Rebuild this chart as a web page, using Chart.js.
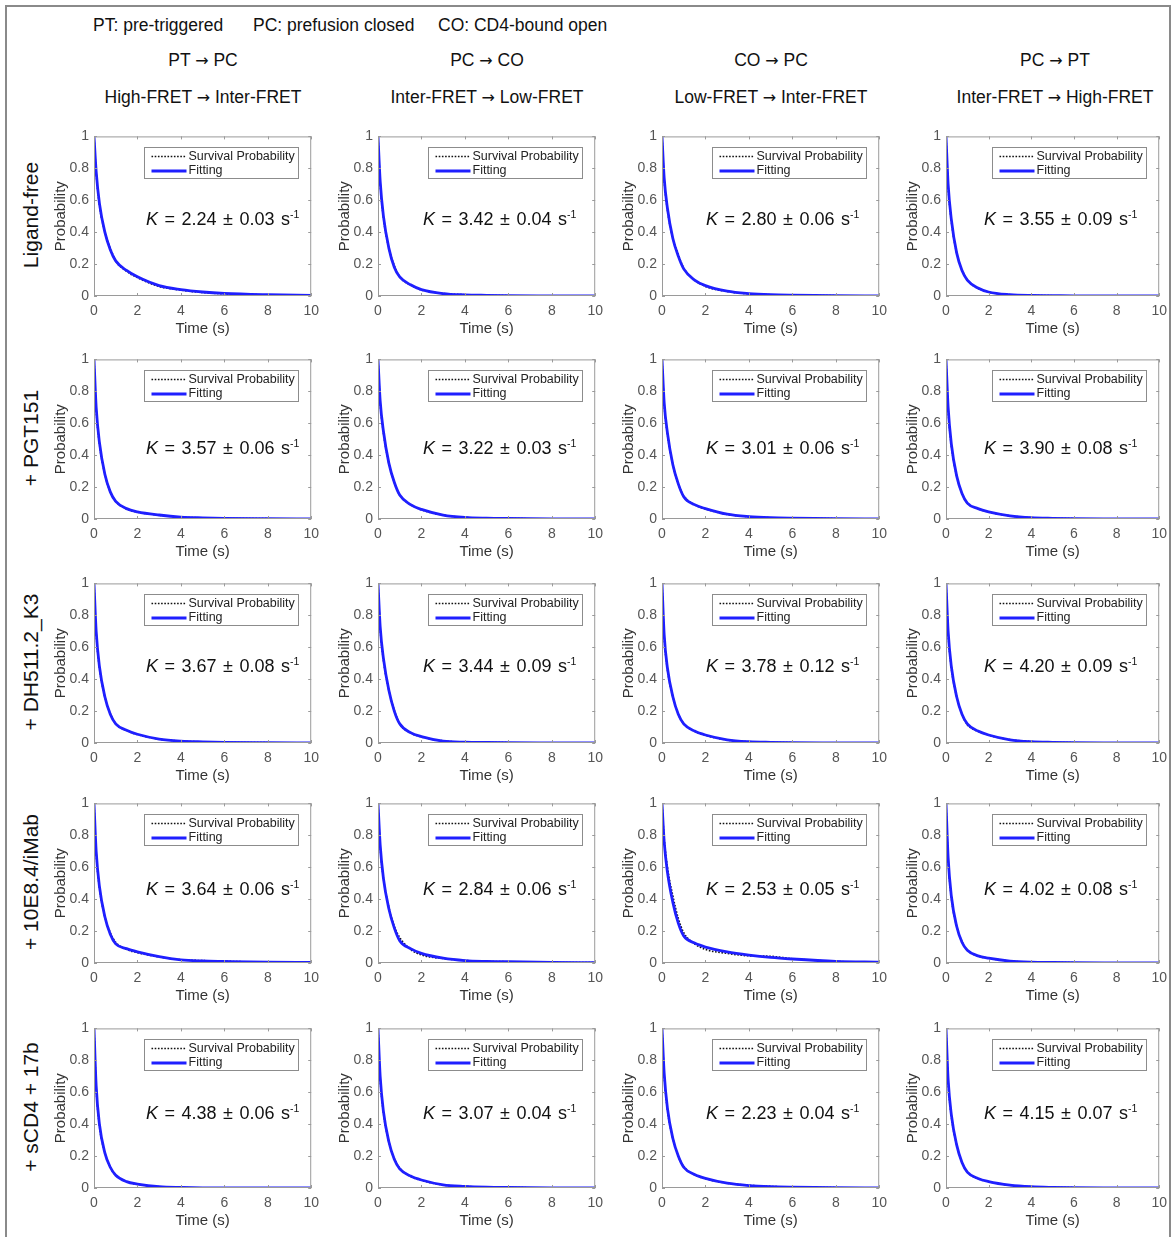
<!DOCTYPE html>
<html>
<head>
<meta charset="utf-8">
<script src="https://cdn.jsdelivr.net/npm/chart.js@4.4.1/dist/chart.umd.min.js"></script>
<style>
  body { margin: 0; background: #fff; font-family: "Liberation Sans", Arial, sans-serif; }
  #fig { position: relative; width: 1175px; height: 1237px; overflow: hidden; }
  #frame { position: absolute; left: 5px; top: 5px; width: 1166px; height: 1240px; border: 2px solid #8a8a8a; box-sizing: border-box; }
  .txt { position: absolute; white-space: nowrap; color: #111; font-size: 17.5px; }
  .ctr { transform: translateX(-50%); }
  .arr { font-family: "DejaVu Sans", sans-serif; font-size: 16px; }
  .rowlab { position: absolute; white-space: nowrap; font-size: 21px; color: #111; transform: translate(-50%, -50%) rotate(-90deg); }
  .klab { position: absolute; white-space: nowrap; font-size: 18px; word-spacing: 1.5px; color: #111; transform: translateY(-50%); }
  .klab sup { font-size: 10.5px; vertical-align: 7px; }
  canvas { position: absolute; }
</style>
</head>
<body>
<div id="fig">
  <div id="frame"></div>
</div>
<script>
// ---- data ----
const legendNote = ["PT: pre-triggered", "PC: prefusion closed", "CO: CD4-bound open"];
const transitions = ["PT → PC", "PC → CO", "CO → PC", "PC → PT"];
const fretChanges = ["High-FRET → Inter-FRET", "Inter-FRET → Low-FRET", "Low-FRET → Inter-FRET", "Inter-FRET → High-FRET"];
const conditions = ["Ligand-free", "+ PGT151", "+ DH511.2_K3", "+ 10E8.4/iMab", "+ sCD4 + 17b"];

// rate constants, K ± error (s-1), four panels per condition
const rateK = [
  ["2.24", "0.03"], ["3.42", "0.04"], ["2.80", "0.06"], ["3.55", "0.09"],
  ["3.57", "0.06"], ["3.22", "0.03"], ["3.01", "0.06"], ["3.90", "0.08"],
  ["3.67", "0.08"], ["3.44", "0.09"], ["3.78", "0.12"], ["4.20", "0.09"],
  ["3.64", "0.06"], ["2.84", "0.06"], ["2.53", "0.05"], ["4.02", "0.08"],
  ["4.38", "0.06"], ["3.07", "0.04"], ["2.23", "0.04"], ["4.15", "0.07"]
];

// time (s) where the curves were read
const timePoints = [0, 0.1, 0.25, 0.5, 0.75, 1, 1.5, 2, 3, 4, 5, 6, 8, 10];

// fitted curves, 4 panels per row
const fitLigandFree = [
  [1, 0.78, 0.58, 0.40, 0.29, 0.22, 0.16, 0.12, 0.065, 0.04, 0.025, 0.016, 0.008, 0.004],
  [1, 0.72, 0.50, 0.30, 0.18, 0.12, 0.07, 0.04, 0.015, 0.007, 0.004, 0.002, 0.001, 0],
  [1, 0.74, 0.55, 0.36, 0.25, 0.17, 0.10, 0.065, 0.03, 0.015, 0.008, 0.005, 0.002, 0.001],
  [1, 0.70, 0.48, 0.27, 0.16, 0.10, 0.05, 0.025, 0.008, 0.003, 0.002, 0.001, 0, 0]
];
const fitPGT151 = [
  [1, 0.70, 0.48, 0.28, 0.17, 0.11, 0.065, 0.045, 0.025, 0.012, 0.007, 0.004, 0.002, 0.001],
  [1, 0.74, 0.55, 0.35, 0.23, 0.15, 0.09, 0.06, 0.025, 0.01, 0.005, 0.003, 0.001, 0],
  [1, 0.73, 0.54, 0.34, 0.22, 0.14, 0.09, 0.065, 0.03, 0.015, 0.008, 0.005, 0.002, 0.001],
  [1, 0.70, 0.47, 0.27, 0.16, 0.10, 0.065, 0.045, 0.02, 0.008, 0.004, 0.002, 0.001, 0]
];
const fitDH511 = [
  [1, 0.70, 0.48, 0.29, 0.18, 0.12, 0.08, 0.055, 0.025, 0.012, 0.007, 0.004, 0.002, 0.001],
  [1, 0.73, 0.53, 0.33, 0.20, 0.12, 0.065, 0.04, 0.012, 0.005, 0.003, 0.002, 0.001, 0],
  [1, 0.68, 0.47, 0.29, 0.18, 0.12, 0.075, 0.05, 0.02, 0.008, 0.004, 0.002, 0.001, 0],
  [1, 0.70, 0.48, 0.29, 0.18, 0.12, 0.075, 0.05, 0.02, 0.008, 0.004, 0.002, 0.001, 0]
];
const fit10E8 = [
  [1, 0.70, 0.48, 0.29, 0.18, 0.12, 0.09, 0.07, 0.04, 0.02, 0.013, 0.01, 0.005, 0.003],
  [1, 0.74, 0.53, 0.34, 0.22, 0.14, 0.09, 0.06, 0.03, 0.015, 0.01, 0.008, 0.004, 0.002],
  [1, 0.76, 0.57, 0.38, 0.25, 0.17, 0.125, 0.10, 0.07, 0.05, 0.035, 0.025, 0.01, 0.005],
  [1, 0.66, 0.42, 0.23, 0.13, 0.08, 0.045, 0.03, 0.012, 0.005, 0.003, 0.002, 0.001, 0]
];
const fitSCD4 = [
  [1, 0.64, 0.40, 0.22, 0.13, 0.08, 0.04, 0.025, 0.008, 0.003, 0.001, 0.001, 0, 0],
  [1, 0.70, 0.48, 0.29, 0.18, 0.12, 0.075, 0.05, 0.02, 0.01, 0.005, 0.003, 0.001, 0],
  [1, 0.72, 0.50, 0.31, 0.20, 0.13, 0.085, 0.06, 0.03, 0.015, 0.008, 0.005, 0.002, 0.001],
  [1, 0.68, 0.46, 0.27, 0.16, 0.10, 0.06, 0.04, 0.018, 0.008, 0.004, 0.002, 0.001, 0]
];

// measured survival probability
const survLigandFree = [
  [1, 0.77, 0.57, 0.40, 0.30, 0.22, 0.155, 0.115, 0.06, 0.037, 0.022, 0.014, 0.007, 0.003],
  [1, 0.71, 0.49, 0.30, 0.19, 0.12, 0.068, 0.038, 0.016, 0.008, 0.004, 0.002, 0.001, 0],
  [1, 0.73, 0.54, 0.36, 0.26, 0.175, 0.10, 0.06, 0.028, 0.014, 0.008, 0.005, 0.002, 0.001],
  [1, 0.69, 0.47, 0.27, 0.165, 0.10, 0.048, 0.024, 0.008, 0.003, 0.002, 0.001, 0, 0]
];
const survPGT151 = [
  [1, 0.69, 0.47, 0.28, 0.17, 0.11, 0.063, 0.043, 0.024, 0.012, 0.007, 0.004, 0.002, 0.001],
  [1, 0.73, 0.54, 0.35, 0.23, 0.15, 0.09, 0.058, 0.024, 0.01, 0.005, 0.003, 0.001, 0],
  [1, 0.72, 0.53, 0.34, 0.22, 0.145, 0.09, 0.063, 0.029, 0.015, 0.008, 0.005, 0.002, 0.001],
  [1, 0.69, 0.46, 0.27, 0.16, 0.10, 0.064, 0.044, 0.02, 0.008, 0.004, 0.002, 0.001, 0]
];
const survDH511 = [
  [1, 0.69, 0.47, 0.29, 0.185, 0.12, 0.078, 0.053, 0.024, 0.012, 0.007, 0.004, 0.002, 0.001],
  [1, 0.72, 0.52, 0.33, 0.205, 0.12, 0.063, 0.038, 0.013, 0.006, 0.003, 0.002, 0.001, 0],
  [1, 0.67, 0.46, 0.29, 0.18, 0.12, 0.073, 0.048, 0.019, 0.008, 0.004, 0.002, 0.001, 0],
  [1, 0.69, 0.47, 0.29, 0.18, 0.115, 0.073, 0.049, 0.021, 0.009, 0.004, 0.002, 0.001, 0]
];
const surv10E8 = [
  [1, 0.69, 0.47, 0.29, 0.19, 0.13, 0.085, 0.065, 0.038, 0.021, 0.015, 0.011, 0.005, 0.003],
  [1, 0.73, 0.53, 0.35, 0.23, 0.16, 0.085, 0.05, 0.028, 0.016, 0.01, 0.008, 0.004, 0.002],
  [1, 0.78, 0.60, 0.42, 0.28, 0.19, 0.12, 0.085, 0.06, 0.045, 0.042, 0.027, 0.01, 0.004],
  [1, 0.65, 0.41, 0.23, 0.135, 0.08, 0.044, 0.03, 0.012, 0.005, 0.003, 0.002, 0.001, 0]
];
const survSCD4 = [
  [1, 0.63, 0.39, 0.22, 0.13, 0.08, 0.04, 0.024, 0.008, 0.003, 0.001, 0.001, 0, 0],
  [1, 0.69, 0.47, 0.29, 0.185, 0.125, 0.073, 0.048, 0.019, 0.01, 0.005, 0.003, 0.001, 0],
  [1, 0.71, 0.49, 0.31, 0.20, 0.135, 0.083, 0.058, 0.03, 0.017, 0.01, 0.006, 0.002, 0.001],
  [1, 0.67, 0.45, 0.27, 0.16, 0.10, 0.058, 0.04, 0.017, 0.008, 0.004, 0.002, 0.001, 0]
];

const fitRows = [fitLigandFree, fitPGT151, fitDH511, fit10E8, fitSCD4];
const survRows = [survLigandFree, survPGT151, survDH511, surv10E8, survSCD4];

// ---- layout ----
const plotLeft = [94, 378, 662, 946];
const plotTop = [133, 356, 580, 800, 1025];
const plotW = 218, plotH = 163;
const yAxisW = 50, xAxisH = 50, padTop = 10;
const kLeft = [52, 45, 44, 38];
const kTop = [86, 92, 86, 89, 88];
const FONT = '"Liberation Sans", Arial, sans-serif';

const fig = document.getElementById('fig');

function addText(cls, text, x, y) {
  const d = document.createElement('div');
  d.className = cls;
  d.innerHTML = text.replace('→', '<span class="arr">→</span>');
  d.style.left = x + 'px';
  d.style.top = y + 'px';
  fig.appendChild(d);
  return d;
}

// header
addText('txt', legendNote[0], 93, 15);
addText('txt', legendNote[1], 253, 15);
addText('txt', legendNote[2], 438, 15);
transitions.forEach((t, c) => addText('txt ctr', t, plotLeft[c] + plotW / 2, 50));
fretChanges.forEach((t, c) => addText('txt ctr', t, plotLeft[c] + plotW / 2, 87));
conditions.forEach((t, r) => addText('rowlab', t, 31, plotTop[r] + plotH / 2));

// box, inner ticks and legend drawn on each panel
const panelDecor = {
  id: 'panelDecor',
  afterDatasetsDraw(chart) {
    const { ctx, chartArea: a, scales: { x, y } } = chart;
    ctx.save();
    ctx.strokeStyle = '#9a9a9a';
    ctx.lineWidth = 1;
    ctx.strokeRect(a.left + 0.5, a.top + 0.5, a.width - 1, a.height - 1);
    ctx.beginPath();
    x.ticks.forEach(t => {
      const px = Math.round(x.getPixelForValue(t.value)) + 0.5;
      ctx.moveTo(px, a.bottom); ctx.lineTo(px, a.bottom - 3);
      ctx.moveTo(px, a.top); ctx.lineTo(px, a.top + 3);
    });
    y.ticks.forEach(t => {
      const py = Math.round(y.getPixelForValue(t.value)) + 0.5;
      ctx.moveTo(a.left, py); ctx.lineTo(a.left + 3, py);
      ctx.moveTo(a.right, py); ctx.lineTo(a.right - 3, py);
    });
    ctx.stroke();

    // legend box
    const bw = 154, bh = 31;
    const bx = Math.round(a.right - 13 - bw) + 0.5, by = Math.round(a.top + 11) + 0.5;
    ctx.fillStyle = '#fff';
    ctx.fillRect(bx, by, bw, bh);
    ctx.strokeStyle = '#8c8c8c';
    ctx.strokeRect(bx, by, bw, bh);
    const ds = chart.data.datasets;
    const entries = [ds[1], ds[0]];
    ctx.font = '12.5px ' + FONT;
    ctx.textBaseline = 'middle';
    entries.forEach((d, i) => {
      const ly = by + 9 + i * 14.5;
      ctx.beginPath();
      ctx.strokeStyle = d.borderColor;
      ctx.lineWidth = d.borderWidth;
      ctx.setLineDash(d.borderDash || []);
      ctx.moveTo(bx + 7, ly); ctx.lineTo(bx + 42, ly);
      ctx.stroke();
      ctx.setLineDash([]);
      ctx.fillStyle = '#222';
      ctx.fillText(d.label, bx + 44, ly);
    });
    ctx.restore();
  }
};

for (let r = 0; r < 5; r++) {
  for (let c = 0; c < 4; c++) {
    const padRight = c === 3 ? 10 : 14;
    const cv = document.createElement('canvas');
    const w = yAxisW + plotW + padRight, h = padTop + plotH + xAxisH;
    cv.width = w; cv.height = h;
    cv.style.left = (plotLeft[c] - yAxisW) + 'px';
    cv.style.top = (plotTop[r] - padTop) + 'px';
    fig.appendChild(cv);

    const fit = fitRows[r][c], surv = survRows[r][c];
    new Chart(cv, {
      type: 'line',
      data: {
        datasets: [
          {
            label: 'Fitting',
            data: timePoints.map((t, i) => ({ x: t, y: fit[i] })),
            borderColor: '#1f1fff',
            borderWidth: 2.8,
            pointRadius: 0,
            cubicInterpolationMode: 'monotone',
            order: 0
          },
          {
            label: 'Survival Probability',
            data: timePoints.map((t, i) => ({ x: t, y: surv[i] })),
            borderColor: '#111',
            borderWidth: 1.6,
            borderDash: [1.6, 1.6],
            pointRadius: 0,
            cubicInterpolationMode: 'monotone',
            order: 1
          }
        ]
      },
      options: {
        responsive: false,
        animation: false,
        events: [],
        layout: { padding: { top: padTop, right: padRight, left: 0, bottom: 0 } },
        plugins: { legend: { display: false }, tooltip: { enabled: false } },
        scales: {
          x: {
            type: 'linear', min: 0, max: 10,
            grid: { display: false, drawTicks: false },
            border: { display: false },
            ticks: { stepSize: 2, padding: 7, color: '#555', font: { size: 14, family: FONT } },
            title: { display: true, text: 'Time (s)', color: '#333', font: { size: 15, family: FONT }, padding: { top: 0, bottom: 8 } },
            afterFit(s) { s.height = xAxisH; }
          },
          y: {
            min: 0, max: 1,
            grid: { display: false, drawTicks: false },
            border: { display: false },
            ticks: {
              stepSize: 0.2, padding: 5, color: '#555', font: { size: 14, family: FONT },
              callback: v => String(Math.round(v * 10) / 10)
            },
            title: { display: true, text: 'Probability', color: '#333', font: { size: 15, family: FONT }, padding: { top: 8, bottom: 0 } },
            afterFit(s) { s.width = yAxisW; }
          }
        }
      },
      plugins: [panelDecor]
    });

    const k = rateK[r * 4 + c];
    const kl = document.createElement('div');
    kl.className = 'klab';
    kl.innerHTML = '<i>K</i> = ' + k[0] + ' ± ' + k[1] + ' s<sup>-1</sup>';
    kl.style.left = (plotLeft[c] + kLeft[c]) + 'px';
    kl.style.top = (plotTop[r] + kTop[r]) + 'px';
    fig.appendChild(kl);
  }
}
</script>
</body>
</html>
